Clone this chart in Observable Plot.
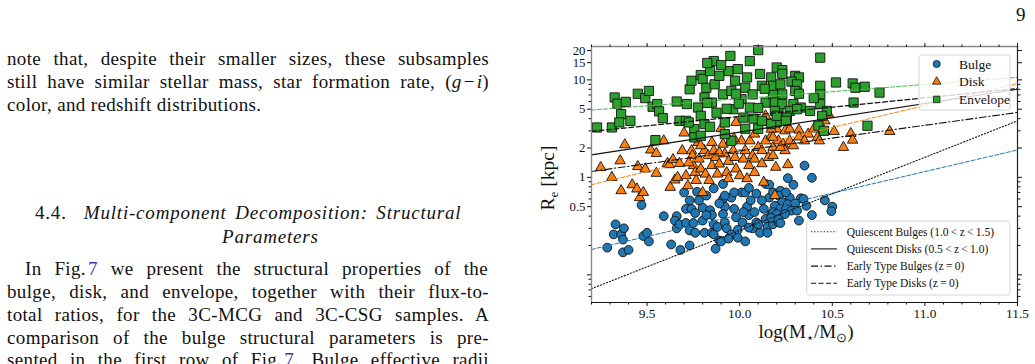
<!DOCTYPE html>
<html><head><meta charset="utf-8">
<script src="https://cdn.jsdelivr.net/npm/d3@7"></script>
<script src="https://cdn.jsdelivr.net/npm/@observablehq/plot@0.6"></script>
<style>
body{margin:0;background:#fff;width:1035px;height:364px;overflow:hidden;position:relative;font-family:"Liberation Serif",serif;color:#111}
.ln{position:absolute;font-size:19px;line-height:23px;letter-spacing:0.35px;text-align:justify;text-align-last:justify;white-space:normal}
.hd{letter-spacing:0.8px;word-spacing:3px;white-space:nowrap;text-align:left;text-align-last:left}
.ref{color:#3a3aa0}
#chart{position:absolute;left:525px;top:0}
</style></head><body>
<div class="ln" style="left:7px;top:47px;width:482px">note that, despite their smaller sizes, these subsamples</div>
<div class="ln" style="left:7px;top:70px;width:482px">still have similar stellar mass, star formation rate, (<i>g</i>&#8202;−&#8202;<i>i</i>)</div>
<div class="ln" style="left:7px;top:93px;text-align-last:left">color, and redshift distributions.</div>
<div class="ln hd" style="left:35px;top:201px">4.4.&nbsp;&nbsp;<i>Multi-component Decomposition: Structural</i></div>
<div class="ln hd" style="left:222px;top:225px"><i>Parameters</i></div>
<div class="ln" style="left:25px;top:257px;width:463px">In Fig.&#8202;<span class="ref">7</span> we present the structural properties of the</div>
<div class="ln" style="left:7px;top:280px;width:482px">bulge, disk, and envelope, together with their flux-to-</div>
<div class="ln" style="left:7px;top:303px;width:482px">total ratios, for the 3C-MCG and 3C-CSG samples. A</div>
<div class="ln" style="left:7px;top:326px;width:482px">comparison of the bulge structural parameters is pre-</div>
<div class="ln" style="left:7px;top:348px;width:482px">sented in the first row of Fig.&#8202;<span class="ref">7</span>. Bulge effective radii</div>
<div class="ln" style="left:1016px;top:3px;text-align-last:left">9</div>
<div id="chart"></div>
<script>
// ---- data: [log stellar mass, effective radius (kpc)] ----
const bulgePts = [
[9.285,0.19],[9.33,0.33],[9.32,0.26],[9.36,0.26],[9.375,0.30],[9.37,0.23],[9.37,0.17],[9.40,0.18],[9.48,0.25],[9.50,0.27],[9.51,0.22],[9.47,0.52],[9.59,0.40],[9.66,0.40],[9.65,0.36],[9.66,0.30],[9.68,0.18],[9.63,0.205],[9.70,0.70],[9.675,0.33],[9.71,0.475],[9.71,0.34],[9.73,0.20],[9.74,0.475],[9.73,0.285],[9.76,0.43],[9.75,0.34],[9.76,0.27],[9.77,0.71],[9.80,0.49],[9.80,0.36],[9.81,0.27],[9.84,0.46],[9.85,0.41],[9.86,0.33],[9.85,0.27],[9.86,0.26],[9.88,0.31],[9.89,0.225],[9.90,0.22],[9.91,0.60],[9.92,0.50],[9.91,0.42],[9.92,0.345],[9.93,0.30],[9.955,0.62],[9.955,0.26],[9.97,0.475],[9.98,0.39],[9.99,0.29],[9.99,0.24],[10.01,0.70],[10.015,0.345],[10.03,0.22],[10.04,0.50],[10.05,0.41],[10.06,0.58],[10.07,0.30],[10.08,0.44],[10.09,0.345],[10.11,0.27],[10.13,0.475],[10.14,0.375],[10.15,0.31],[10.16,0.62],[10.17,0.42],[10.18,0.33],[10.20,0.51],[10.21,0.345],[10.22,0.675],[9.89,0.54],[9.91,0.855],[9.92,0.65],[10.03,0.70],[10.14,0.855],[10.16,0.84],[10.22,0.73],[10.18,0.70],[10.21,0.65],[10.27,0.62],[10.33,0.61],[10.345,0.60],[10.23,0.555],[10.26,0.53],[10.30,0.54],[10.19,0.51],[10.22,0.475],[10.25,0.475],[10.28,0.456],[10.18,0.44],[10.20,0.42],[10.245,0.42],[10.17,0.385],[10.21,0.37],[10.22,0.34],[10.32,0.36],[10.46,0.58],[10.50,0.50],[10.495,0.45],[10.35,1.32],[10.39,0.99],[10.26,0.98],[10.29,0.84],[10.25,0.70],
[9.82,0.65],[9.86,0.77],[10.05,0.78],[10.09,0.68],[10.12,0.58],[9.97,0.70],[9.78,0.58],[9.73,0.58],[9.82,0.41],[10.02,0.44],[10.10,0.33],[10.15,0.27],[10.31,0.456],[10.36,0.51],[10.39,0.41],[10.05,0.305],[9.94,0.235],[9.87,0.185]
];
const diskPts = [
[9.25,1.26],[9.31,1.00],[9.36,0.73],[9.355,1.48],[9.38,2.16],[9.42,0.84],[9.45,1.29],[9.445,0.76],[9.46,0.62],[9.49,1.22],[9.48,0.70],[9.52,1.91],[9.55,1.76],[9.55,1.10],[9.59,2.37],[9.61,1.39],[9.62,1.35],[9.64,1.52],[9.65,0.94],[9.675,1.39],[9.625,0.79],[9.665,1.00],[9.70,2.85],[9.71,1.04],[9.72,0.82],[9.74,1.88],[9.745,1.67],[9.75,1.32],[9.76,1.12],[9.765,0.93],[9.775,2.28],[9.78,1.54],[9.79,1.22],[9.80,0.70],[9.81,1.88],[9.815,1.08],[9.83,1.67],[9.85,2.28],[9.85,1.32],[9.86,1.88],[9.87,1.60],[9.88,1.08],[9.89,1.37],[9.90,3.17],[9.91,2.19],[9.92,1.74],[9.93,1.12],[9.94,1.46],[9.95,2.37],[9.965,1.88],[9.975,1.60],[9.98,1.22],[10.00,1.04],[10.01,2.37],[10.02,1.54],[10.03,1.88],[10.05,1.32],[10.055,2.37],[10.07,1.67],[10.08,2.78],[10.10,2.03],[10.12,1.88],[10.14,4.28],[10.14,2.37],[10.155,1.60],[10.17,2.67],[10.18,2.03],[10.20,3.13],[10.13,0.89],[10.21,2.37],[10.17,3.13],[10.245,3.0],[10.27,3.13],[10.32,3.06],[10.37,2.78],[10.40,3.13],[10.42,2.57],[10.43,2.37],[10.455,3.0],[10.48,4.45],[10.51,2.96],[10.60,2.82],[10.61,2.41],[10.56,2.03],[10.81,2.96],[10.18,2.57],[10.235,2.19],[10.27,2.37],[10.29,2.11],[10.245,1.88],[10.18,1.67],[10.195,1.27],[10.26,1.35],[10.19,0.65],[9.98,3.66],[10.46,3.8],[10.08,1.54],[10.22,2.03],[10.32,2.6],[10.35,2.37],
[9.725,1.41],[9.835,0.93],[9.94,0.97],[10.04,0.97],[10.08,1.12],[10.12,1.38],[9.69,1.88],[9.97,2.49],[9.89,1.79],[9.79,2.11]
];
const envelopePts = [
[9.23,3.25],[9.31,3.25],[9.325,6.6],[9.34,5.7],[9.385,5.95],[9.36,4.45],[9.35,3.66],[9.41,3.8],[9.45,7.2],[9.49,6.5],[9.51,7.7],[9.53,5.3],[9.555,5.65],[9.565,4.75],[9.585,4.05],[9.545,2.41],[9.66,6.0],[9.675,3.8],[9.71,3.8],[9.715,5.65],[9.73,8.0],[9.74,9.8],[9.755,3.13],[9.755,2.57],[9.79,11.2],[9.80,10.2],[9.775,5.2],[9.79,4.28],[9.81,3.52],[9.82,8.3],[9.81,6.6],[9.84,12.3],[9.85,5.85],[9.86,15.6],[9.865,9.0],[9.875,4.6],[9.89,11.0],[9.91,7.1],[9.92,3.66],[9.94,12.3],[9.95,17.6],[9.955,7.7],[9.965,5.0],[9.975,9.8],[9.99,12.9],[10.01,6.35],[10.02,4.1],[10.03,8.3],[10.04,10.6],[10.055,5.2],[10.07,7.1],[10.10,20.2],[10.11,11.5],[10.12,8.7],[10.14,5.85],[10.17,10.6],[10.18,7.1],[10.20,13.4],[10.21,5.0],[10.20,3.66],[9.955,2.37],[9.92,2.78],[10.435,16.9],[10.23,12.6],[10.23,11.5],[10.30,11.0],[10.32,10.6],[10.28,9.6],[10.31,9.0],[10.18,8.7],[10.22,9.0],[10.23,7.1],[10.30,7.7],[10.435,8.7],[10.435,7.1],[10.52,9.4],[10.61,9.2],[10.625,8.3],[10.675,8.5],[10.755,7.4],[10.615,5.85],[10.19,5.85],[10.23,5.65],[10.29,5.65],[10.33,5.2],[10.435,5.65],[10.19,4.8],[10.27,4.8],[10.31,5.0],[10.47,4.8],[10.445,4.28],[10.425,3.38],[10.455,3.0],[10.69,3.38],[10.255,4.1],[10.17,3.52],[10.20,4.28],[9.725,3.66],[9.79,2.67],[9.84,3.3],
[9.825,14.9],[9.90,14.2],[10.055,15.6],[9.995,5.7],[9.93,5.05],[10.075,4.0],[10.10,3.15],[10.135,8.1],[10.03,3.15],[9.98,7.2],[9.825,5.8],[10.12,3.8],[10.10,5.15],[10.32,7.2],[10.25,3.8],[10.38,4.8],[10.40,6.5]
];

// relation lines (endpoints at the plot's mass limits)
const lineMass = [9.2, 11.5];
const bulgeFitRe = [0.182, 1.91];
const diskFitRe = [0.84, 9.17];
const envelopeFitRe = [4.9, 10.6];
const quiescentBulgesRe = [0.072, 3.80];
const quiescentDisksRe = [1.70, 8.0];
const earlyBulgesRe = [1.15, 4.63];
const earlyDisksRe = [2.96, 8.15];

// axes
const xDomain = [9.2, 11.5];
const yDomain = [0.052, 22];
const xTickLabels = [9.5, 10.0, 10.5, 11.0, 11.5];
const xMinorTicks = [9.2,9.3,9.4,9.6,9.7,9.8,9.9,10.1,10.2,10.3,10.4,10.6,10.7,10.8,10.9,11.1,11.2,11.3,11.4];
const yTickLabels = [0.5, 1, 2, 5, 10, 15, 20];
const yMajorUnlabeled = [0.1];
const yMinorTicks = [0.06,0.07,0.08,0.09,0.2,0.3,0.4,0.6,0.7,0.8,0.9,3,4,6,7,8,9];

const legendTop = ["Bulge", "Disk", "Envelope"];
const legendBottom = ["Quiescent Bulges (1.0\u2009<\u2009z\u2009<\u20091.5)", "Quiescent Disks (0.5\u2009<\u2009z\u2009<\u20091.0)", "Early Type Bulges (z\u2009=\u20090)", "Early Type Disks (z\u2009=\u20090)"];

const C_BLUE = "#1f77b4", C_ORANGE = "#ff7f0e", C_GREEN = "#2ca02c";

const mkLine = (re) => lineMass.map((m, i) => ({m, re: re[i]}));
const L = (re, opts) => Plot.line(mkLine(re), {x: "m", y: "re", ...opts});

const W = 510, H = 364;
const fs = 13.3;
const yTicksAll = yTickLabels.concat(yMajorUnlabeled);
const plot = Plot.plot({
  width: W, height: H,
  marginLeft: 66, marginRight: 18, marginTop: 46, marginBottom: 62,
  style: {fontFamily: "Liberation Serif, serif", background: "transparent", color: "#111"},
  x: {domain: xDomain},
  y: {type: "log", domain: yDomain},
  marks: [
    // points
    Plot.dot(bulgePts, {x: d => d[0], y: d => d[1], r: 4.4, fill: C_BLUE, stroke: "#111", strokeWidth: 0.9}),
    Plot.dot(diskPts, {x: d => d[0], y: d => d[1], symbol: "triangle", r: 3.9, fill: C_ORANGE, stroke: "#111", strokeWidth: 0.9}),
    Plot.dot(envelopePts, {x: d => d[0], y: d => d[1], symbol: "square", r: 5.2, fill: C_GREEN, stroke: "#111", strokeWidth: 0.9}),
    // fit lines
    L(bulgeFitRe, {stroke: C_BLUE, strokeWidth: 1, strokeDasharray: "4,2"}),
    L(diskFitRe, {stroke: C_ORANGE, strokeWidth: 1, strokeDasharray: "4,2"}),
    L(envelopeFitRe, {stroke: "#4cb84c", strokeWidth: 1, strokeDasharray: "4,2"}),
    // literature relations
    L(quiescentBulgesRe, {stroke: "#111", strokeWidth: 1.1, strokeDasharray: "1.2,2"}),
    L(quiescentDisksRe, {stroke: "#111", strokeWidth: 1.1}),
    L(earlyBulgesRe, {stroke: "#111", strokeWidth: 1.1, strokeDasharray: "7,2.5,1.5,2.5"}),
    L(earlyDisksRe, {stroke: "#111", strokeWidth: 1.1, strokeDasharray: "5,2.5"}),
    // frame
    Plot.ruleX([xDomain[0]], {stroke: "#888", strokeWidth: 1.4}),
    Plot.ruleY([yDomain[1]], {stroke: "#888", strokeWidth: 1.4}),
    Plot.ruleX([xDomain[1]], {stroke: "#222", strokeWidth: 1.2}),
    Plot.ruleY([yDomain[0]], {stroke: "#111", strokeWidth: 1.2}),
    // axes
    Plot.axisX({anchor: "bottom", ticks: xTickLabels, tickSize: 4, tickPadding: 2, tickFormat: d => d.toFixed(1), fontSize: fs, label: null}),
    Plot.axisX({anchor: "bottom", ticks: xMinorTicks, tickSize: 2.5, tickFormat: () => "", label: null}),
    Plot.axisX({anchor: "top", ticks: xTickLabels, tickSize: 4, tickFormat: () => "", label: null}),
    Plot.axisX({anchor: "top", ticks: xMinorTicks, tickSize: 2.5, tickFormat: () => "", label: null}),
    Plot.axisY({anchor: "left", ticks: yTicksAll, tickSize: 4, tickFormat: () => "", label: null}),
    Plot.axisY({anchor: "left", ticks: yMinorTicks, tickSize: 2.5, tickFormat: () => "", label: null}),
    Plot.text(yTickLabels, {y: d => d, text: d => String(d), frameAnchor: "left", textAnchor: "end", dx: -6, fontSize: 12.8, fill: "#111"}),
    Plot.axisY({anchor: "right", ticks: yTicksAll, tickSize: 4, tickFormat: () => "", label: null}),
    Plot.axisY({anchor: "right", ticks: yMinorTicks, tickSize: 2.5, tickFormat: () => "", label: null})
  ]
});
document.getElementById("chart").appendChild(plot);

const svg = d3.select(plot);
const ff = "Liberation Serif, serif";
// axis titles
const xl = svg.append("text").attr("x", 281).attr("y", 338).attr("text-anchor", "middle")
  .attr("font-size", 19).attr("font-family", ff).attr("fill", "#111");
xl.append("tspan").text("log(M");
xl.append("tspan").attr("font-size", 13).attr("dy", 4).text("\u22C6");
xl.append("tspan").attr("dy", -4).text("/M");
xl.append("tspan").attr("font-size", 13).attr("dy", 4).text("\u2299");
xl.append("tspan").attr("dy", -4).text(")");
const yl = svg.append("text").attr("transform", "translate(29,178) rotate(-90)").attr("text-anchor", "middle")
  .attr("font-size", 19.5).attr("font-family", ff).attr("fill", "#111");
yl.append("tspan").text("R");
yl.append("tspan").attr("font-size", 13).attr("dy", 4).text("e");
yl.append("tspan").attr("dy", -4).text(" [kpc]");

// legend (top right)
const g1 = svg.append("g").attr("font-family", ff).attr("font-size", 13.5).attr("fill", "#111").attr("text-anchor", "start");
g1.append("rect").attr("x", 394).attr("y", 55).attr("width", 91).attr("height", 55).attr("rx", 2.5)
  .attr("fill", "#fff").attr("fill-opacity", 0.8).attr("stroke", "#d0d0d0").attr("stroke-width", 0.9);
const symOf = [d3.symbolCircle, d3.symbolTriangle, d3.symbolSquare];
const sizeOf = [40, 32, 42];
const colOf = [C_BLUE, C_ORANGE, C_GREEN];
legendTop.forEach((t, i) => {
  const y = 64 + i * 17.7;
  g1.append("path").attr("d", d3.symbol(symOf[i], sizeOf[i])()).attr("transform", `translate(411.7,${y})`)
    .attr("fill", colOf[i]).attr("stroke", "#111").attr("stroke-width", 0.8);
  g1.append("text").attr("x", 434).attr("y", y).attr("dy", "0.35em").attr("text-anchor", "start").text(t);
});

// legend (bottom right)
const g2 = svg.append("g").attr("font-family", ff).attr("font-size", 11.5).attr("fill", "#111").attr("text-anchor", "start");
g2.append("rect").attr("x", 281.7).attr("y", 221).attr("width", 203.3).attr("height", 74).attr("rx", 2.5)
  .attr("fill", "#fff").attr("fill-opacity", 0.8).attr("stroke", "#d0d0d0").attr("stroke-width", 0.9);
const dashOf = ["1.2,2", null, "7,2.5,1.5,2.5", "5,2.5"];
legendBottom.forEach((t, i) => {
  const y = 231.7 + i * 17.2;
  const ln = g2.append("line").attr("x1", 286).attr("x2", 312).attr("y1", y).attr("y2", y)
    .attr("stroke", "#111").attr("stroke-width", 1.1);
  if (dashOf[i]) ln.attr("stroke-dasharray", dashOf[i]);
  g2.append("text").attr("x", 321.7).attr("y", y).attr("dy", "0.35em").attr("text-anchor", "start").text(t);
});
</script>
</body></html>
